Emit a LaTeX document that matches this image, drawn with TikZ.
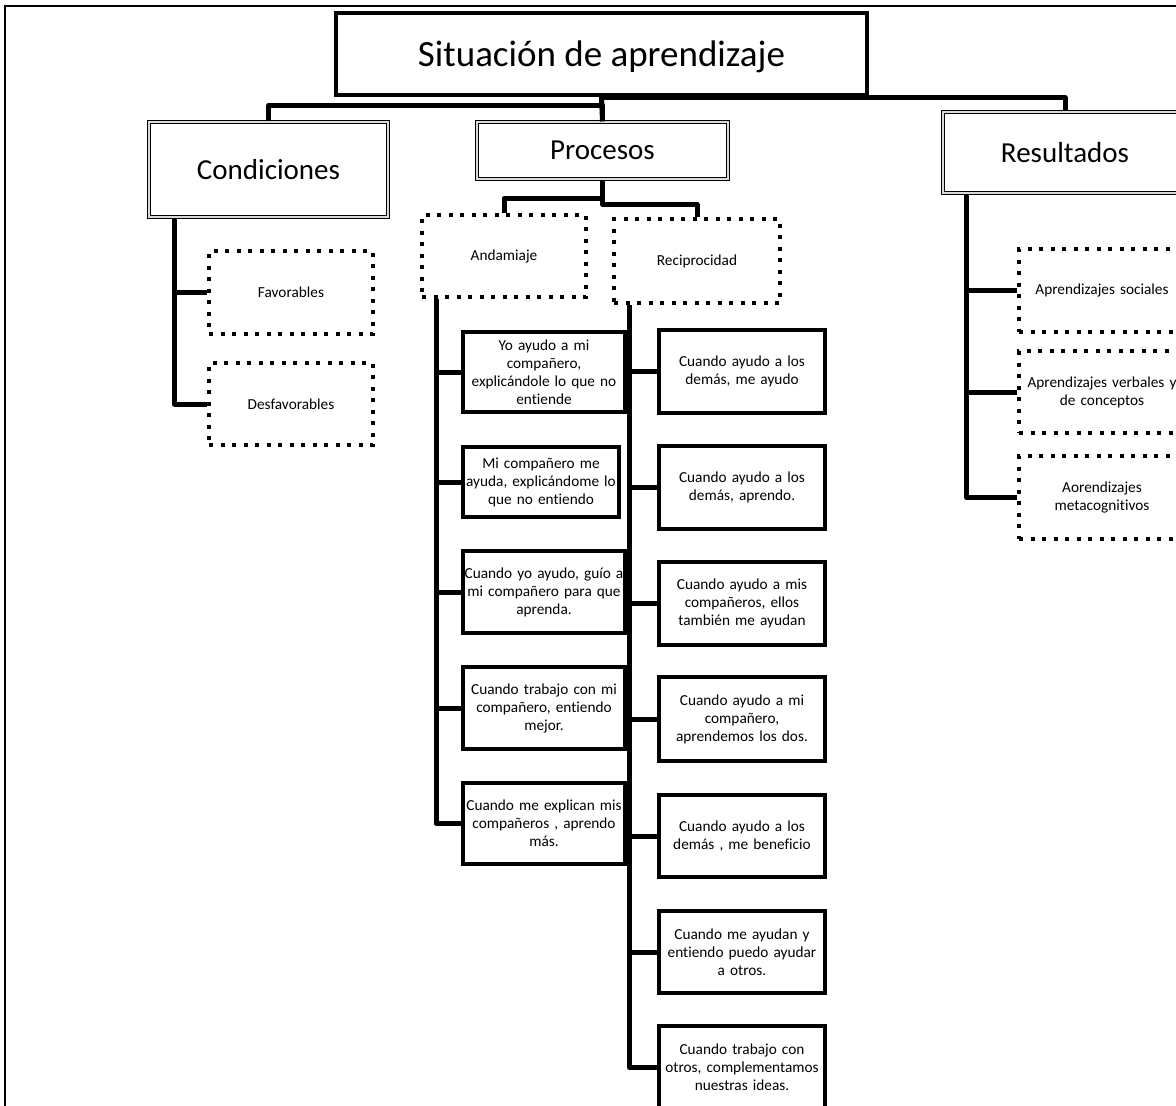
\documentclass[tikz,border=0pt]{standalone}
\usepackage{fontspec}
\setmainfont{Carlito}[Ligatures=NoCommon, RawFeature={-liga;-clig;-calt;-dlig}]
\usetikzlibrary{calc}
\begin{document}
\begin{tikzpicture}[x=1pt,y=-1pt,
  conn/.style={line width=5pt, line join=round},
  titlebox/.style={draw, line width=3.5pt, inner sep=0pt, align=center, text depth=0pt,
    font=\fontsize{37}{44}\selectfont},
  headbox/.style={draw=black, line width=1.1pt, double=gray!30, double distance=1.1pt,
    inner sep=0pt, align=center, font=\fontsize{29}{35}\selectfont},
  dotbox/.style={draw, line width=4pt, dash pattern=on 4pt off 7.5pt,
    inner sep=0pt, align=center, font=\fontsize{15.3}{18}\selectfont},
  itembox/.style={draw, line width=3.2pt, inner sep=0pt, align=center,
    font=\fontsize{15.3}{18}\selectfont},
  sz/.style 2 args={text width=#1pt, minimum height=#2pt}
]
\useasboundingbox (0,0) rectangle (1176,1106);

% page frame
\draw[line width=1.6pt] (5,1115) -- (5,6) -- (1185,6);

% top levels
\node[titlebox, minimum width=531pt, minimum height=82pt] (title) at (601.5,54) {Situación de aprendizaje};
\node[headbox, minimum width=239pt, minimum height=95pt] (cond) at (268.5,169.5) {Condiciones};
\node[headbox, minimum width=251pt, minimum height=57pt] (proc) at (602.5,150.5) {Procesos};
\node[headbox, minimum width=244pt, minimum height=81pt] (res) at (1065,152.5) {Resultados};

% conditions
\node[dotbox, sz={164}{83}] (fav) at (291,292.5) {Favorables};
\node[dotbox, sz={164}{82}] (desf) at (291,404) {Desfavorables};

% processes
\node[dotbox, sz={164}{82}] (anda) at (504,256) {Andamiaje};
\node[dotbox, sz={166}{84}] (reci) at (697,261) {Reciprocidad};

\node[itembox, sz={162}{80}] (a1) at (544,372) {Yo ayudo a mi\\compañero,\\explicándole lo que no\\entiende};
\node[itembox, sz={156}{70}] (a2) at (541,482) {Mi compañero me\\ayuda, explicándome lo\\que no entiendo};
\node[itembox, sz={162}{82}] (a3) at (544,592) {Cuando yo ayudo, guío a\\mi compañero para que\\aprenda.};
\node[itembox, sz={162}{82}] (a4) at (544,708) {Cuando trabajo con mi\\compañero, entiendo\\mejor.};
\node[itembox, sz={162}{81}] (a5) at (544,823.5) {Cuando me explican mis\\compañeros , aprendo\\más.};

\node[itembox, sz={166}{83}] (r1) at (742,371.5) {Cuando ayudo a los\\demás, me ayudo};
\node[itembox, sz={166}{83}] (r2) at (742,487.5) {Cuando ayudo a los\\demás, aprendo.};
\node[itembox, sz={166}{83}] (r3) at (742,603.5) {Cuando ayudo a mis\\compañeros, ellos\\también me ayudan};
\node[itembox, sz={166}{84}] (r4) at (742,719) {Cuando ayudo a mi\\compañero,\\aprendemos los dos.};
\node[itembox, sz={166}{82}] (r5) at (742,836) {Cuando ayudo a los\\demás , me beneficio};
\node[itembox, sz={166}{82}] (r6) at (742,952) {Cuando me ayudan y\\entiendo puedo ayudar\\a otros.};
\node[itembox, sz={166}{82}] (r7) at (742,1067) {Cuando trabajo con\\otros, complementamos\\nuestras ideas.};

% results
\node[dotbox, sz={166}{83}] (s1) at (1102,290.5) {Aprendizajes sociales};
\node[dotbox, sz={166}{82}] (s2) at (1102,392) {Aprendizajes verbales y\\de conceptos};
\node[dotbox, sz={166}{83}] (s3) at (1102,497.5) {Aorendizajes\\metacognitivos};

% tree connectors
\draw[conn] (title.south) -- (proc.north);
\draw[conn] (cond.north) -- ++(0,-16) -| (proc.north);
\draw[conn] (title.south) ++(0,1) -| (res.north);
\draw[conn] (proc.south) -- ++(0,19) -| (anda.north);
\draw[conn] (proc.south) -- ++(0,25) -| (reci.north);

\coordinate (cspine) at ($(cond.south west)+(26,0)$);
\coordinate (aspine) at ($(anda.south west)+(16,0)$);
\coordinate (rspine) at ($(reci.south west)+(17,0)$);
\coordinate (sspine) at ($(res.south west)+(24,0)$);

\foreach \n in {fav,desf} \draw[conn] (cspine) |- (\n.west);
\foreach \n in {a1,a2,a3,a4,a5} \draw[conn] (aspine) |- (\n.west);
\foreach \n in {r1,r2,r3,r4,r5,r6,r7} \draw[conn] (rspine) |- (\n.west);
\foreach \n in {s1,s2,s3} \draw[conn] (sspine) |- (\n.west);
\end{tikzpicture}
\end{document}
